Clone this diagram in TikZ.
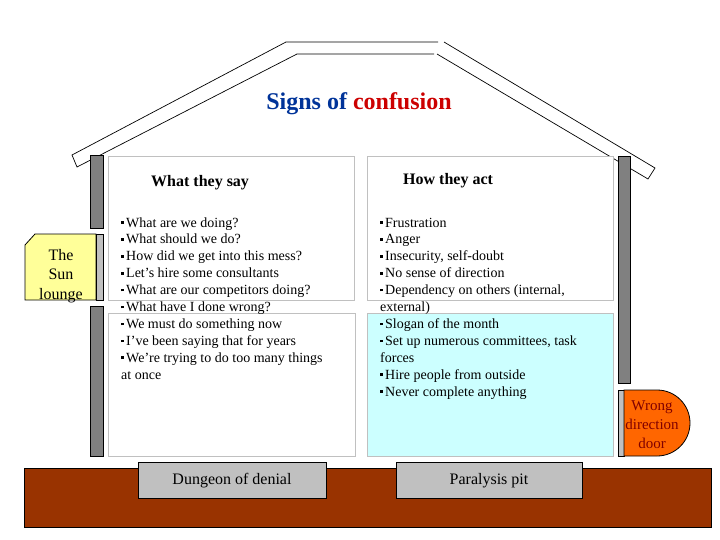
\documentclass[tikz,border=0pt]{standalone}
\usepackage{fontspec}
\setmainfont{Liberation Serif}
\definecolor{wallgrey}{RGB}{128,128,128}
\definecolor{lightgrey}{RGB}{192,192,192}
\definecolor{loungeyellow}{RGB}{255,255,153}
\definecolor{pitcyan}{RGB}{204,255,255}
\definecolor{doororange}{RGB}{255,102,0}
\definecolor{floorbrown}{RGB}{153,51,0}
\definecolor{titleblue}{RGB}{0,51,153}
\definecolor{titlered}{RGB}{204,0,0}
\definecolor{doortext}{RGB}{128,0,0}
\newcommand{\bul}{\rule[3.2pt]{2.6pt}{2.6pt}\hspace{2.4pt}}
\begin{document}
\begin{tikzpicture}[x=1pt,y=-1pt,
  slab/.style={draw=black,fill=white,line width=0.7pt,line join=miter},
  wall/.style={draw=black,fill=wallgrey,line width=0.8pt},
  panel/.style={draw=lightgrey,line width=0.8pt},
  strip/.style={draw=black,fill=lightgrey,line width=0.8pt},
  pit/.style={draw=black,fill=lightgrey,line width=0.8pt},
  listtext/.style={anchor=base west,inner sep=0pt,align=left,font=\fontsize{14}{16.9}\selectfont},
  heading/.style={inner sep=0pt,font=\fontsize{16}{19}\selectfont\bfseries},
  label/.style={inner sep=0pt,align=center,font=\fontsize{16}{19.5}\selectfont}]
\useasboundingbox (0,0) rectangle (720,540);
% roof
\draw[slab] (438,42) -- (286,42) -- (72,155) -- (77,167) -- (297,54) -- (434,54);
\draw[slab] (444,42) -- (655,168) -- (648,179) -- (437,54);
% walls
\draw[wall] (90,155) rectangle (103,228);
\draw[wall] (90,306) rectangle (103,456);
\draw[wall] (618,156) rectangle (630,383);
% panels
\draw[panel,fill=white] (108,156) rectangle (354,300);
\draw[panel,fill=white] (108,313) rectangle (355,456);
\draw[panel,fill=white] (367,156) rectangle (613,300);
\draw[panel,fill=pitcyan] (367,313) rectangle (613,456);
% sun lounge
\draw[draw=black,fill=loungeyellow,line width=0.8pt] (25,245) -- (35,234) -- (96,234) -- (96,300) -- (25,300) -- cycle;
\draw[strip] (96,234) rectangle (103,300);
\node[label] (lounge) at (61,276) {The\\Sun\\lounge};
% door
\draw[strip] (618,390) rectangle (624,456);
\draw[draw=black,fill=doororange,line width=0.8pt] (624,390) -- (657,390) arc[start angle=90,end angle=-90,radius=33pt] -- (624,456) -- cycle;
\node[label,text=doortext,font=\fontsize{15}{19}\selectfont] (door) at (652,425) {Wrong\\direction\\door};
% floor
\draw[draw=black,fill=floorbrown,line width=0.8pt] (24,468) rectangle (711,527);
\draw[pit] (138,462) rectangle (326,498);
\draw[pit] (396,462) rectangle (582,498);
\node[label] (dungeon) at (232,481) {Dungeon of denial};
\node[label] (paralysis) at (489,481) {Paralysis pit};
% title
\node[inner sep=0pt,anchor=base,font=\fontsize{24}{28}\selectfont\bfseries] (title) at (359,110) {\textcolor{titleblue}{Signs of} \textcolor{titlered}{confusion}};
% headings
\node[heading,anchor=base west] (say) at (151,187) {What they say};
\node[heading,anchor=base west] (act) at (403,185) {How they act};
% lists (anchored at the baseline of their last line)
\node[listtext] (saylist) at (121,379.1) {\bul What are we doing?\\
\bul What should we do?\\
\bul How did we get into this mess?\\
\bul Let’s hire some consultants\\
\bul What are our competitors doing?\\
\bul What have I done wrong?\\
\bul We must do something now\\
\bul I’ve been saying that for years\\
\bul We’re trying to do too many things\\
at once};
\node[listtext] (actlist) at (380,396) {\bul Frustration\\
\bul Anger\\
\bul Insecurity, self-doubt\\
\bul No sense of direction\\
\bul Dependency on others (internal,\\
external)\\
\bul Slogan of the month\\
\bul Set up numerous committees, task\\
forces\\
\bul Hire people from outside\\
\bul Never complete anything};
\end{tikzpicture}
\end{document}
